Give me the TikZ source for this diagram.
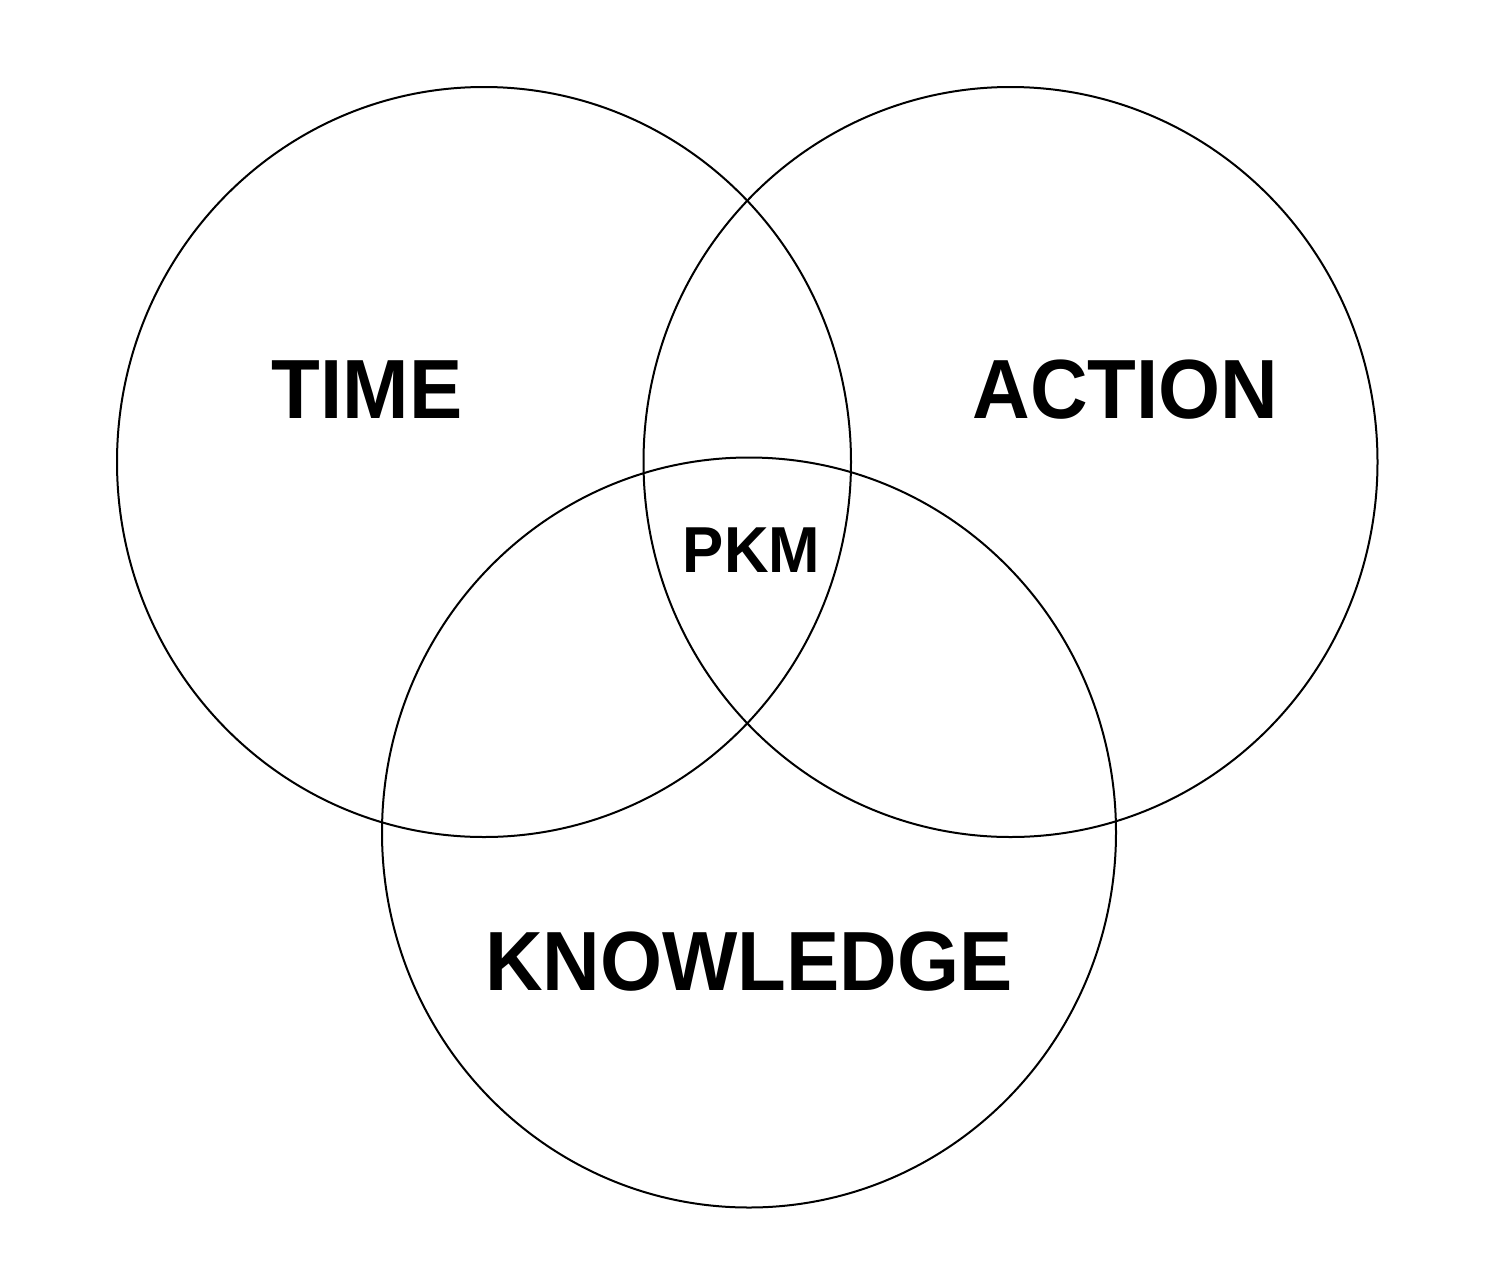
\documentclass[tikz,border=0pt]{standalone}
\usepackage{fontspec}
\setmainfont{Liberation Sans}
\newfontfamily\labfont[FakeStretch=0.95]{Liberation Sans}
\begin{document}
\begin{tikzpicture}[x=1pt,y=-1pt,
  venn/.style={draw=black,line width=2pt},
  big/.style={font=\labfont\fontsize{84}{84}\selectfont\bfseries,inner sep=0pt},
  small/.style={font=\labfont\fontsize{65}{65}\selectfont\bfseries,inner sep=0pt}]
\useasboundingbox (0,0) rectangle (1486,1280);
\draw[venn] (484,462) ellipse [x radius=367, y radius=375];
\draw[venn] (1010.5,462) ellipse [x radius=367, y radius=375];
\draw[venn] (749,832.5) ellipse [x radius=367, y radius=375];
\node[big,anchor=base] (time) at (367,418) {TIME};
\node[big,anchor=base] (action) at (1125.5,418) {ACTION};
\node[big,anchor=base] (knowledge) at (749,990) {KNOWLEDGE};
\node[small,anchor=base] (pkm) at (751.5,572) {PKM};
\end{tikzpicture}
\end{document}
